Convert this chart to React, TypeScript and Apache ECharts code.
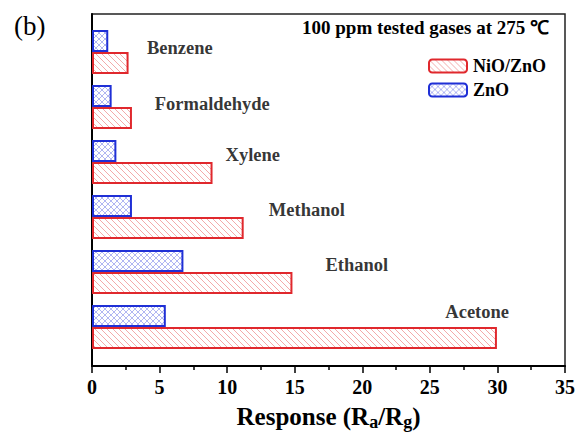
import React, { useEffect, useRef } from "react";
import * as echarts from "echarts";

const gases = ["Benzene", "Formaldehyde", "Xylene", "Methanol", "Ethanol", "Acetone"];
const nioZno = [2.7, 2.95, 8.9, 11.2, 14.8, 29.9];
const zno = [1.2, 1.45, 1.8, 2.95, 6.75, 5.45];
// label anchor positions (response value, row value where Acetone = 1 ... Benzene = 6)
const labelX = [6.5, 8.9, 11.9, 15.9, 19.6, 28.5];
const labelY = [6.08, 5.06, 4.13, 3.13, 2.13, 1.28];
const xTicks = { min: 0, max: 35, interval: 5 };

const FONT = "Liberation Serif";

function makePattern(color: string, cross: boolean) {
  const s = 6;
  const c = document.createElement("canvas");
  c.width = s;
  c.height = s;
  const ctx = c.getContext("2d")!;
  ctx.fillStyle = "#ffffff";
  ctx.fillRect(0, 0, s, s);
  ctx.strokeStyle = color;
  ctx.lineWidth = 0.9;
  ctx.beginPath();
  for (const o of [-s, 0, s]) {
    ctx.moveTo(o, 0);
    ctx.lineTo(o + s, s);
    if (cross) {
      ctx.moveTo(o + s, 0);
      ctx.lineTo(o, s);
    }
  }
  ctx.stroke();
  return { image: c, repeat: "repeat" } as any;
}

export default function App() {
  const ref = useRef<HTMLDivElement>(null);
  useEffect(() => {
    if (!ref.current) return;
    const chart = echarts.init(ref.current, undefined, { renderer: "svg" });
    const redPat = makePattern("#f2a0a0", false);
    const bluePat = makePattern("#a8aef0", true);
    chart.setOption({
      animation: false,
      backgroundColor: "#ffffff",
      textStyle: { fontFamily: FONT },
      title: [
        {
          text: "(b)",
          left: 9,
          top: 7,
          textStyle: { fontFamily: FONT, fontSize: 27, fontWeight: "normal", color: "#000" },
        },
        {
          text: "100 ppm tested gases at 275 ℃",
          right: 24,
          top: 13,
          textStyle: { fontFamily: FONT, fontSize: 19, fontWeight: "bold", color: "#000" },
        },
      ],
      legend: {
        orient: "vertical",
        left: 428,
        top: 57,
        padding: 0,
        itemWidth: 38,
        itemHeight: 13,
        itemGap: 6,
        data: ["NiO/ZnO", "ZnO"],
        textStyle: { fontFamily: FONT, fontSize: 18, fontWeight: "bold", color: "#000", padding: [0, 0, 0, 1] },
      },
      grid: [
        { left: 92, right: 12, top: 24.5, bottom: 81.5, show: false },
        { left: 92, right: 12, top: 14, bottom: 70, show: true, borderColor: "#222", borderWidth: 1.5 },
      ],
      xAxis: [
        { gridIndex: 0, type: "value", ...xTicks, show: false },
        {
          gridIndex: 1,
          type: "value",
          ...xTicks,
          axisLine: { show: true, lineStyle: { color: "#000", width: 2 } },
          axisTick: { show: true, inside: false, length: 7, lineStyle: { color: "#000", width: 1.5 } },
          minorTick: { show: true, splitNumber: 2, length: 4, lineStyle: { color: "#000", width: 1.5 } },
          splitLine: { show: false },
          axisLabel: { fontFamily: FONT, fontSize: 20, fontWeight: "bold", color: "#000", margin: 11 },
          name: "Response (R{sub|a}/R{sub|g})",
          nameLocation: "middle",
          nameGap: 35,
          nameTextStyle: {
            fontFamily: FONT,
            fontSize: 25,
            fontWeight: "bold",
            color: "#000",
            rich: {
              sub: { fontFamily: FONT, fontSize: 18, fontWeight: "bold", color: "#000", verticalAlign: "bottom", padding: [12, 0, 0, 0] },
            },
          },
        },
      ],
      yAxis: [
        { gridIndex: 0, type: "category", data: gases, inverse: true, show: false },
        {
          gridIndex: 1,
          type: "value",
          min: 0.3,
          max: 6.7,
          axisLine: { show: true, lineStyle: { color: "#000", width: 2 } },
          axisTick: { show: false },
          axisLabel: { show: false },
          splitLine: { show: false },
        },
      ],
      series: [
        {
          name: "ZnO",
          type: "bar",
          xAxisIndex: 0,
          yAxisIndex: 0,
          data: zno,
          barWidth: 22,
          barGap: "0%",
          itemStyle: { color: bluePat, borderColor: "#1f2fd6", borderWidth: 2 },
        },
        {
          name: "NiO/ZnO",
          type: "bar",
          xAxisIndex: 0,
          yAxisIndex: 0,
          data: nioZno,
          barWidth: 22,
          barGap: "0%",
          itemStyle: { color: redPat, borderColor: "#e0282d", borderWidth: 2 },
        },
        {
          type: "scatter",
          xAxisIndex: 1,
          yAxisIndex: 1,
          symbolSize: 0,
          silent: true,
          data: gases.map((g, i) => ({ value: [labelX[i], labelY[i]], name: g })),
          label: {
            show: true,
            position: "inside",
            formatter: (p: any) => p.name,
            fontFamily: FONT,
            fontSize: 18.5,
            fontWeight: "bold",
            color: "#000",
          },
        },
      ],
    });
    return () => chart.dispose();
  }, []);
  return <div ref={ref} style={{ width: 578, height: 436, position: "absolute", left: 0, top: 0 }} />;
}
